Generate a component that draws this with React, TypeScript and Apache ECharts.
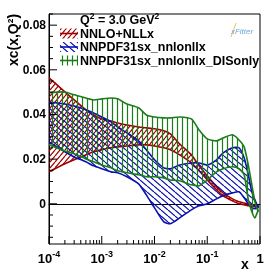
import React, { useEffect, useRef } from 'react';
import * as echarts from 'echarts';

// x grid (log axis)
const xs = [1e-4, 2e-4, 3e-4, 5e-4, 7e-4, 1e-3, 1.5e-3, 2e-3, 3e-3, 5e-3, 7e-3, 1e-2, 1.5e-2, 2e-2, 3e-2, 5e-2, 7e-2, 0.1, 0.15, 0.2, 0.3, 0.4, 0.5, 0.6, 0.7, 0.8, 0.9, 0.95];

// NNLO+NLLx
const redUpper = [0.0564, 0.0501, 0.0465, 0.0421, 0.0398, 0.0380, 0.0371, 0.0362, 0.0353, 0.0344, 0.0340, 0.0336, 0.0327, 0.0313, 0.0268, 0.0219, 0.0170, 0.0125, 0.0076, 0.0049, 0.0022, 0.0009, 0.0004, 0.0000, -0.0004, -0.0007, -0.0009, -0.0011];
const redLower = [0.0143, 0.0179, 0.0197, 0.0219, 0.0233, 0.0242, 0.0251, 0.0255, 0.0259, 0.0264, 0.0264, 0.0259, 0.0251, 0.0242, 0.0219, 0.0183, 0.0148, 0.0107, 0.0063, 0.0036, 0.0013, 0.0000, -0.0004, -0.0009, -0.0011, -0.0013, -0.0013, -0.0013];

// NNPDF31sx_nnlonllx
const blueUpper = [0.0456, 0.0447, 0.0438, 0.0421, 0.0407, 0.0389, 0.0367, 0.0344, 0.0318, 0.0282, 0.0242, 0.0197, 0.0161, 0.0157, 0.0174, 0.0183, 0.0183, 0.0174, 0.0197, 0.0228, 0.0251, 0.0251, 0.0206, 0.0130, 0.0054, 0.0018, -0.0009, -0.0013];
const blueLower = [0.0277, 0.0233, 0.0210, 0.0188, 0.0170, 0.0157, 0.0143, 0.0139, 0.0121, 0.0089, 0.0040, -0.0018, -0.0081, -0.0089, -0.0063, -0.0027, -0.0009, 0.0000, 0.0022, 0.0036, 0.0049, 0.0054, 0.0027, 0.0000, -0.0018, -0.0022, -0.0018, -0.0018];

// NNPDF31sx_nnlonllx_DISonly
const greenUpper = [0.0497, 0.0501, 0.0488, 0.0474, 0.0465, 0.0470, 0.0474, 0.0470, 0.0447, 0.0430, 0.0398, 0.0389, 0.0385, 0.0385, 0.0389, 0.0380, 0.0331, 0.0291, 0.0282, 0.0295, 0.0309, 0.0286, 0.0255, 0.0174, 0.0085, 0.0009, -0.0027, -0.0030];
const greenLower = [0.0264, 0.0237, 0.0224, 0.0201, 0.0188, 0.0174, 0.0161, 0.0148, 0.0139, 0.0130, 0.0121, 0.0121, 0.0116, 0.0107, 0.0103, 0.0085, 0.0081, 0.0107, 0.0143, 0.0157, 0.0166, 0.0157, 0.0130, 0.0018, -0.0036, -0.0063, -0.0036, -0.0030];

const legendNames = ['NNLO+NLLx', 'NNPDF31sx_nnlonllx', 'NNPDF31sx_nnlonllx_DISonly'];

// axis ticks
const xMajorTicks = [1e-4, 1e-3, 1e-2, 1e-1, 1];
const xMinorTicks = [2e-4, 3e-4, 4e-4, 5e-4, 6e-4, 7e-4, 8e-4, 9e-4, 2e-3, 3e-3, 4e-3, 5e-3, 6e-3, 7e-3, 8e-3, 9e-3, 2e-2, 3e-2, 4e-2, 5e-2, 6e-2, 7e-2, 8e-2, 9e-2, 0.2, 0.3, 0.4, 0.5, 0.6, 0.7, 0.8, 0.9];
const yMajorTicks = [0, 0.02, 0.04, 0.06, 0.08];
const yMinorTicks = [-0.015, -0.01, -0.005, 0.005, 0.01, 0.015, 0.025, 0.03, 0.035, 0.045, 0.05, 0.055, 0.065, 0.07, 0.075, 0.085];

const X_MIN = 1e-4;
const X_MAX = 1;
const Y_MIN = -0.018;
const Y_MAX = 0.085;

const RED = '#a00000';
const BLUE = '#0a10b0';
const GREEN = '#1a7d1a';
const FONT = '"Liberation Sans", Arial, Helvetica, sans-serif';

function makeHatch(kind: string, color: string) {
  const c = document.createElement('canvas');
  let w = 5, h = 6;
  if (kind === 'back') { w = 7; h = 6; }
  if (kind === 'vert') { w = 5; h = 5; }
  c.width = w; c.height = h;
  const ctx = c.getContext('2d')!;
  ctx.strokeStyle = color;
  ctx.lineWidth = 1.2;
  ctx.beginPath();
  if (kind === 'vert') {
    ctx.moveTo(2.5, 0); ctx.lineTo(2.5, h);
  } else if (kind === 'slash') {
    for (const o of [-w, 0, w]) { ctx.moveTo(o, h); ctx.lineTo(o + w, 0); }
  } else {
    for (const o of [-w, 0, w]) { ctx.moveTo(o, 0); ctx.lineTo(o + w, h); }
  }
  ctx.stroke();
  return { image: c, repeat: 'repeat' };
}

export default function App() {
  const ref = useRef<HTMLDivElement>(null);
  useEffect(() => {
    if (!ref.current) return;
    const chart = echarts.init(ref.current, undefined, { renderer: 'svg' });
    const pats = [makeHatch('slash', RED), makeHatch('back', BLUE), makeHatch('vert', GREEN)];
    const colors = [RED, BLUE, GREEN];
    const bands = [[redUpper, redLower], [blueUpper, blueLower], [greenUpper, greenLower]];

    const bandSeries = bands.map((b, k) => ({
      type: 'custom',
      name: legendNames[k],
      coordinateSystem: 'cartesian2d',
      silent: true,
      clip: true,
      data: [[xs[0], b[0][0]]],
      renderItem: (params: any, api: any) => {
        const up = xs.map((x, i) => api.coord([x, b[0][i]]));
        const lo = xs.map((x, i) => api.coord([x, b[1][i]]));
        const poly = up.concat(lo.slice().reverse());
        return {
          type: 'group',
          children: [
            { type: 'polygon', shape: { points: poly, smooth: 0.2 }, style: { fill: pats[k], stroke: null } },
            { type: 'polyline', shape: { points: up, smooth: 0.2 }, style: { fill: null, stroke: colors[k], lineWidth: 1.6 } },
            { type: 'polyline', shape: { points: lo, smooth: 0.2 }, style: { fill: null, stroke: colors[k], lineWidth: 1.6 } },
          ],
        };
      },
    }));

    const tickData: any[] = [];
    const tickKind: any[] = [];
    xMajorTicks.forEach((v) => { tickData.push([v, Y_MIN]); tickKind.push(['x', 8]); });
    xMinorTicks.forEach((v) => { tickData.push([v, Y_MIN]); tickKind.push(['x', 4]); });
    yMajorTicks.forEach((v) => { tickData.push([X_MIN, v]); tickKind.push(['y', 8]); });
    yMinorTicks.forEach((v) => { tickData.push([X_MIN, v]); tickKind.push(['y', 4]); });

    const tickSeries = {
      type: 'custom',
      coordinateSystem: 'cartesian2d',
      silent: true,
      z: 10,
      data: tickData,
      renderItem: (params: any, api: any) => {
        const p = api.coord([api.value(0), api.value(1)]);
        const [kind, len] = tickKind[params.dataIndex];
        const shape = kind === 'x'
          ? { x1: p[0], y1: p[1], x2: p[0], y2: p[1] - len }
          : { x1: p[0], y1: p[1], x2: p[0] + len, y2: p[1] };
        return { type: 'line', shape, style: { stroke: '#000', lineWidth: 1 } };
      },
    };

    const legendY = [33.5, 47, 60.5];
    const legendGraphics: any[] = [];
    legendY.forEach((y, k) => {
      legendGraphics.push({ type: 'rect', shape: { x: 60, y: y - 5, width: 18, height: 10 }, style: { fill: pats[k], stroke: null } });
      legendGraphics.push({ type: 'line', shape: { x1: 60, y1: y, x2: 78, y2: y }, style: { stroke: colors[k], lineWidth: 1.6 } });
      legendGraphics.push({ type: 'text', x: 80, y, style: { text: legendNames[k], fill: '#000', font: `bold 12.5px ${FONT}`, textVerticalAlign: 'middle', textAlign: 'left' } });
    });

    chart.setOption({
      animation: false,
      textStyle: { fontFamily: FONT },
      grid: { left: 49, right: 14, top: 14, bottom: 28, show: true, borderColor: '#000', borderWidth: 1, backgroundColor: 'transparent' },
      xAxis: {
        type: 'log', logBase: 10, min: X_MIN, max: X_MAX,
        axisLine: { show: true, lineStyle: { color: '#000', width: 1 } },
        axisTick: { show: false }, splitLine: { show: false }, minorTick: { show: false },
        axisLabel: {
          margin: 5, showMinLabel: true, showMaxLabel: true,
          formatter: (v: number) => {
            const e = Math.round(Math.log10(v));
            return e === 0 ? '{m|1}' : `{m|10}{s|${e}}`;
          },
          rich: {
            m: { fontSize: 13, fontWeight: 'bold', color: '#000', lineHeight: 18, fontFamily: FONT },
            s: { fontSize: 9, fontWeight: 'bold', color: '#000', lineHeight: 10, verticalAlign: 'top', fontFamily: FONT },
          },
        },
      },
      yAxis: {
        type: 'value', min: Y_MIN, max: Y_MAX, splitNumber: 5,
        axisLine: { show: true, lineStyle: { color: '#000', width: 1 } },
        axisTick: { show: false }, splitLine: { show: false },
        axisLabel: {
          margin: 3, showMinLabel: false, showMaxLabel: false,
          fontSize: 12, fontWeight: 'bold', color: '#000', fontFamily: FONT,
          formatter: (v: number) => (Math.abs(v) < 1e-9 ? '0' : v.toFixed(2)),
        },
      },
      series: [...bandSeries, tickSeries],
      graphic: [
        { type: 'text', x: 13, y: 40, rotation: Math.PI / 2, style: { text: 'xc(x,Q²)', fill: '#000', font: `bold 14px ${FONT}`, textAlign: 'center', textVerticalAlign: 'middle' } },
        { type: 'text', x: 245, y: 264, style: { text: 'x', fill: '#000', font: `bold 14px ${FONT}`, textAlign: 'center', textVerticalAlign: 'middle' } },
        {
          type: 'text', x: 80, y: 19.5,
          style: {
            text: '{a|Q}{s|2}{a| = 3.0 GeV}{s|2}', textVerticalAlign: 'middle', textAlign: 'left',
            rich: {
              a: { fontSize: 12.5, fontWeight: 'bold', fill: '#000', lineHeight: 16, fontFamily: FONT },
              s: { fontSize: 8.5, fontWeight: 'bold', fill: '#000', lineHeight: 10, verticalAlign: 'top', fontFamily: FONT },
            },
          },
        },
        ...legendGraphics,
        { type: 'line', shape: { x1: 236, y1: 23, x2: 231, y2: 37 }, style: { stroke: '#e8c060', lineWidth: 1 } },
        { type: 'text', x: 242, y: 31, style: { text: 'xFitter', fill: '#6fa8dc', font: `italic 8px ${FONT}`, textAlign: 'center', textVerticalAlign: 'middle' } },
      ],
    });
    return () => chart.dispose();
  }, []);
  return <div ref={ref} style={{ position: 'fixed', left: 0, top: 0, width: 274, height: 272 }} />;
}
